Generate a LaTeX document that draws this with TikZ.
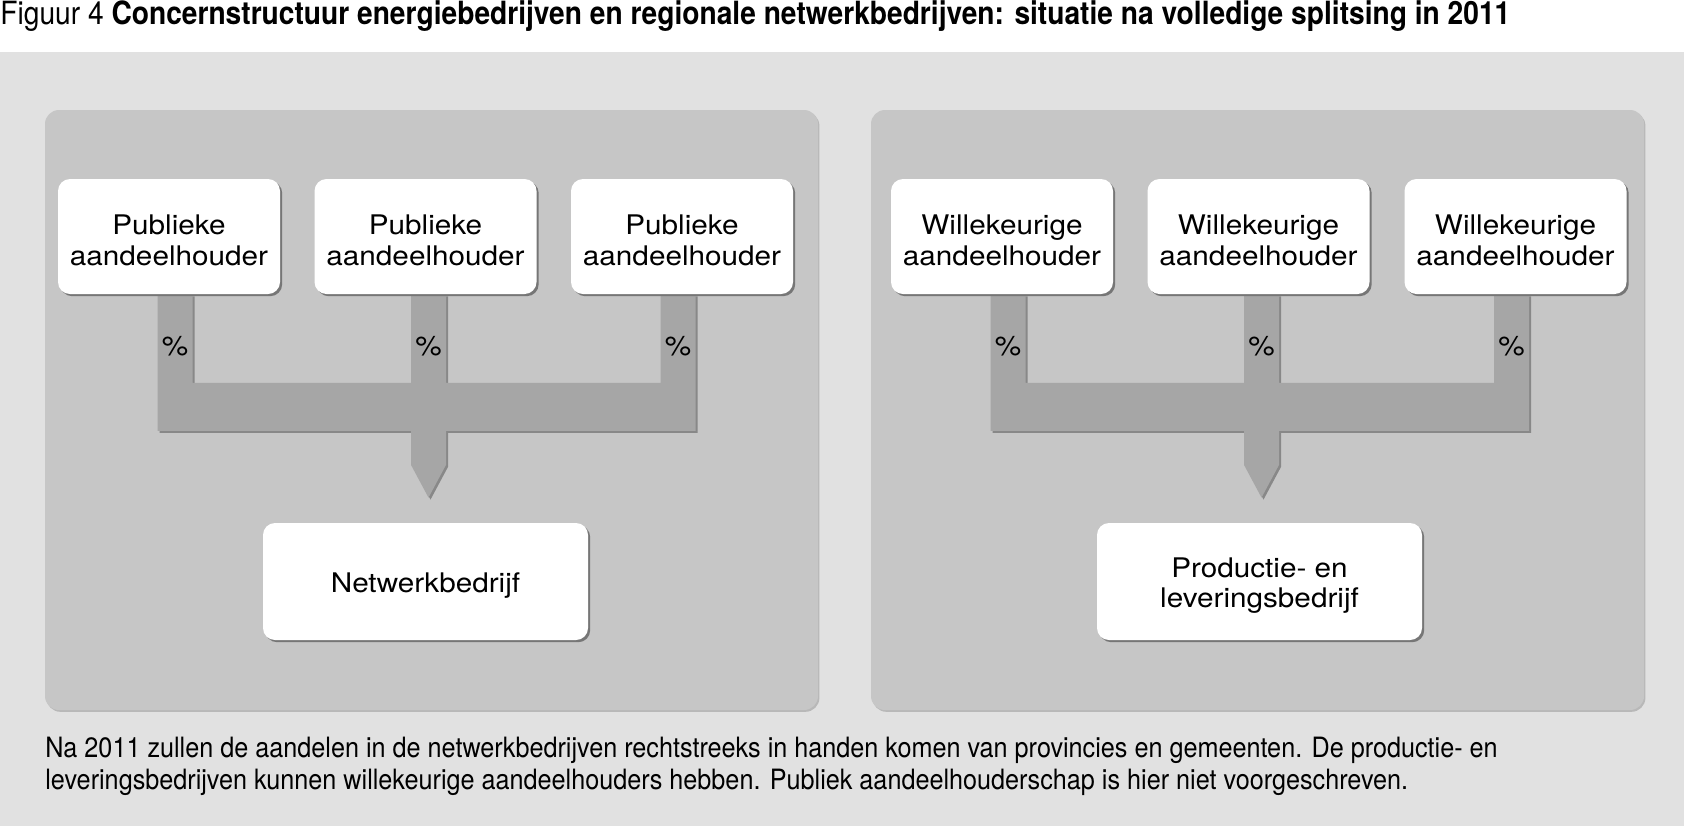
\documentclass[tikz,border=0pt]{standalone}
\usepackage{fontspec}
\setmainfont{TeX Gyre Heros}
\newfontfamily\condfont[FakeStretch=0.88]{TeX Gyre Heros}
\newfontfamily\notefont[FakeStretch=0.9]{TeX Gyre Heros}
\newfontfamily\boxfont[FakeStretch=1.1]{TeX Gyre Heros}
\usepackage{tikz}
\usetikzlibrary{calc,shadows}
\definecolor{pagegrey}{RGB}{225,225,225}
\definecolor{panelgrey}{RGB}{198,198,198}
\definecolor{panelshade}{RGB}{184,184,184}
\definecolor{forkgrey}{RGB}{166,166,166}
\definecolor{forkshade}{RGB}{136,136,136}
\definecolor{boxshade}{RGB}{118,118,118}
\pgfdeclarelayer{bg}
\pgfdeclarelayer{fork}
\pgfsetlayers{bg,fork,main}
\newcommand{\tallstrut}{\rule{0pt}{14pt}}

% three stems, a bar and an arrow down to the firm
\newcommand{\forkbar}[4]{%
  \fill[forkgrey, preaction={fill=forkshade, transform canvas={shift={(1pt,-1pt)}}}]
    let \p1=($(#1.south)+(6,0)$), \p2=($(#2.south)+(3,0)$), \p3=($(#3.south)+(-4,0)$),
        \p4=(#4.north), \n1={\y1-44.25pt}, \n2={\y1-68.25pt}, \n3={\y1-85.25pt}, \n4={8.75pt} in
    (\x1-\n4,\y1) -- (\x1+\n4,\y1) -- (\x1+\n4,\n1) -- (\x2-\n4,\n1) -- (\x2-\n4,\y1)
    -- (\x2+\n4,\y1) -- (\x2+\n4,\n1) -- (\x3-\n4,\n1) -- (\x3-\n4,\y1) -- (\x3+\n4,\y1)
    -- (\x3+\n4,\n2) -- (\x2+\n4,\n2) -- (\x2+\n4,\n3) -- (\x2,\y4+12.5pt) -- (\x2-\n4,\n3)
    -- (\x2-\n4,\n2) -- (\x1-\n4,\n2) -- cycle;}

\begin{document}
\begin{tikzpicture}[x=0.5pt,y=-0.5pt,
  holder/.style={fill=white, rounded corners=6pt, inner sep=0pt, align=center,
    minimum width=111pt, minimum height=57.5pt,
    font={\boxfont\fontsize{13.5pt}{15.4pt}\selectfont},
    general shadow={fill=boxshade, shadow xshift=1.1pt, shadow yshift=-1.1pt}},
  firm/.style={holder, minimum width=162.5pt, minimum height=58.5pt},
  pct/.style={inner sep=0pt, font={\boxfont\fontsize{13.5pt}{15.4pt}\selectfont}}]
\useasboundingbox (0,0) rectangle (1684,826);

\begin{pgfonlayer}{bg}
\fill[white] (0,0) rectangle (1684,826);
\fill[pagegrey] (0,51.5) rectangle (1684,826);
\fill[panelgrey, rounded corners=7pt, preaction={fill=panelshade, transform canvas={shift={(0.7pt,-0.9pt)}}}]
  (45,110) rectangle (818,710);
\fill[panelgrey, rounded corners=7pt, preaction={fill=panelshade, transform canvas={shift={(0.7pt,-0.9pt)}}}]
  (871,110) rectangle (1644,710);
\end{pgfonlayer}

\node[anchor=base west, inner sep=0pt, font={\condfont\fontsize{16pt}{18pt}\selectfont}] (title) at (0,24)
  {Figuur 4 \textbf{Concernstructuur energiebedrijven en regionale netwerkbedrijven: situatie na volledige splitsing in 2011}};

% left: public holders
\node[holder] (pa1) at (169,236.5) {\tallstrut Publieke\\aandeelhouder};
\node[holder] (pa2) at (425.5,236.5) {\tallstrut Publieke\\aandeelhouder};
\node[holder] (pa3) at (682,236.5) {\tallstrut Publieke\\aandeelhouder};
\node[firm] (net) at (425.5,581.5) {\tallstrut Netwerkbedrijf};

% right: any holders
\node[holder] (wa1) at (1002,236.5) {\tallstrut Willekeurige\\aandeelhouder};
\node[holder] (wa2) at (1258.5,236.5) {\tallstrut Willekeurige\\aandeelhouder};
\node[holder] (wa3) at (1515.5,236.5) {\tallstrut Willekeurige\\aandeelhouder};
\node[firm] (prod) at (1259.5,581.5) {\tallstrut Productie- en\\leveringsbedrijf};

\begin{pgfonlayer}{fork}
\forkbar{pa1}{pa2}{pa3}{net}
\forkbar{wa1}{wa2}{wa3}{prod}
\end{pgfonlayer}

\node[pct] (pc1) at ($(pa1.south)+(6,52)$) {\%};
\node[pct] (pc2) at ($(pa2.south)+(3,52)$) {\%};
\node[pct] (pc3) at ($(pa3.south)+(-4,52)$) {\%};
\node[pct] (pc4) at ($(wa1.south)+(6,52)$) {\%};
\node[pct] (pc5) at ($(wa2.south)+(3,52)$) {\%};
\node[pct] (pc6) at ($(wa3.south)+(-4,52)$) {\%};

\node[anchor=north west, inner sep=0pt, align=left, font={\notefont\fontsize{14pt}{16pt}\selectfont}] (note) at (45,737)
  {Na 2011 zullen de aandelen in de netwerkbedrijven rechtstreeks in handen komen van provincies en gemeenten. De productie- en\\
   leveringsbedrijven kunnen willekeurige aandeelhouders hebben. Publiek aandeelhouderschap is hier niet voorgeschreven.};
\end{tikzpicture}
\end{document}
